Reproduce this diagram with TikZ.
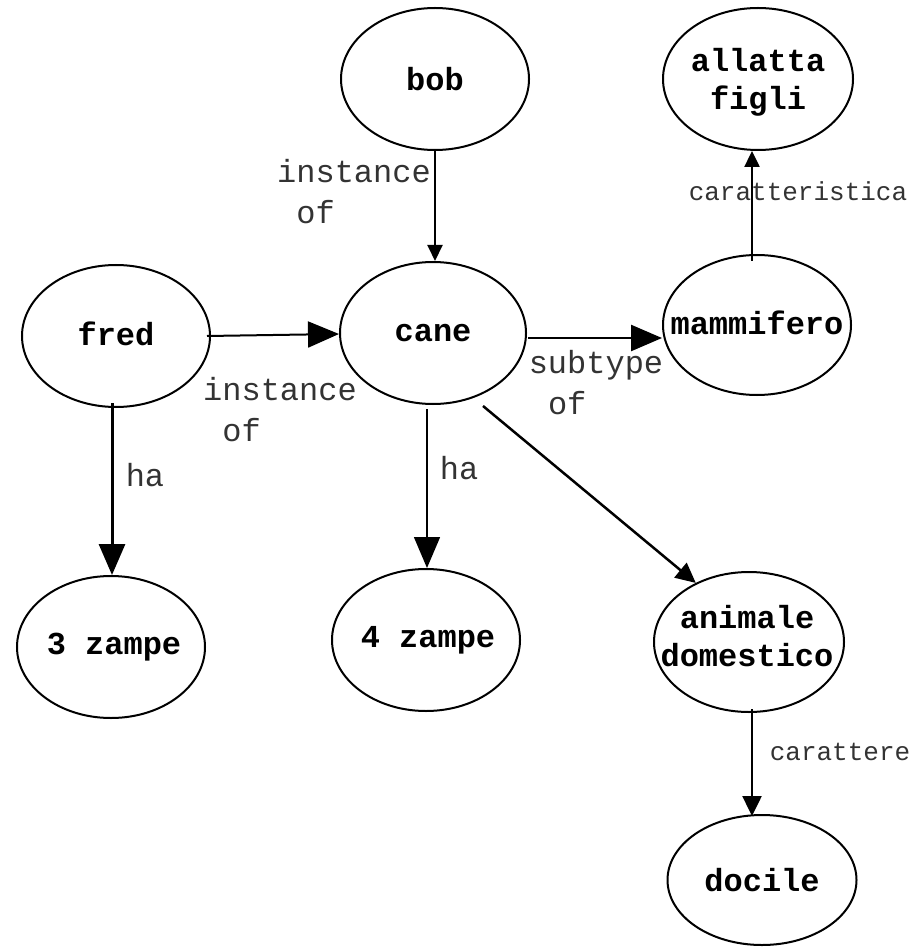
\documentclass[tikz,border=0pt]{standalone}
\usepackage{fontspec}
\setmonofont{Liberation Mono}
\usetikzlibrary{shapes.geometric,arrows.meta}
\begin{document}
\begin{tikzpicture}[x=1pt,y=-1pt,
  concept/.style={ellipse,draw,line width=2pt,inner sep=0pt,
    minimum width=188pt,minimum height=142pt},
  conceptname/.style={align=center,inner sep=0pt,
    font=\ttfamily\bfseries\fontsize{32}{38}\selectfont},
  rel/.style={align=left,inner sep=0pt,text=black!80,
    font=\ttfamily\fontsize{32}{41}\selectfont},
  relsmall/.style={rel,font=\ttfamily\fontsize{26}{32}\selectfont},
  bighead/.style={-{Triangle[length=31pt,width=26pt]}},
  smallhead/.style={-{Triangle[length=16pt,width=15pt]}},
  midhead/.style={-{Triangle[length=20pt,width=19pt]}}]
\useasboundingbox (0,0) rectangle (919,949);

% concepts (names are set as centred labels so they do not stretch the ellipses)
\node[concept,label={[conceptname]center:bob}] (bob) at (435,79) {};
\node[concept,minimum width=190pt,label={[conceptname,yshift=-3pt]center:allatta\\figli}] (latte) at (758,79) {};
\node[concept,label={[conceptname,yshift=2pt]center:fred}] (fred) at (116,336) {};
\node[concept,minimum width=186pt,label={[conceptname]center:cane}] (cane) at (433,333) {};
\node[concept,minimum height=140pt,label={[conceptname,yshift=2pt]center:mammifero}] (mamm) at (757,325) {};
\node[concept,label={[conceptname,xshift=3pt]center:3 zampe}] (z3) at (111,647) {};
\node[concept,label={[conceptname,xshift=2pt]center:4 zampe}] (z4) at (426,640) {};
\node[concept,minimum width=190pt,minimum height=140pt,label={[conceptname,xshift=-2pt,yshift=6pt]center:animale\\domestico}] (dom) at (749,642) {};
\node[concept,minimum width=189pt,minimum height=130pt,label={[conceptname]center:docile}] (doc) at (762,880) {};

% relations
\draw[line width=2pt,smallhead] (bob.south) -- (bob.south |- cane.north);
\draw[line width=2pt,bighead] ([xshift=-4pt]fred.east) -- ([yshift=-1pt]cane.west);
\draw[line width=2.5pt,bighead] ([xshift=1pt]cane.east) ++(0,-5pt) coordinate (ce) -- (ce -| mamm.west);
\draw[line width=1.5pt,bighead] ([xshift=-6pt,yshift=-4pt]cane.south) -- ([xshift=1pt]z4.north);
\draw[line width=3pt,bighead] ([xshift=-4pt,yshift=5pt]fred.south) -- ([xshift=1pt]z3.north);
\draw[line width=2.5pt,midhead] ([xshift=50pt,yshift=-1pt]cane.south) -- (dom.132);
\draw[line width=2.5pt,smallhead] ([xshift=-5pt,yshift=-7pt]mamm.north) -- ([xshift=-6pt]latte.south);
\draw[line width=2.5pt,midhead] ([xshift=3pt,yshift=4pt]dom.south) -- ([xshift=-10pt,yshift=-2pt]doc.north);

% relation labels
\node[rel] (l1) at (354,192) {instance\\\ of};
\node[rel] (l2) at (280,410) {instance\\\ of};
\node[rel] (l3) at (596,383) {subtype\\\ of};
\node[rel] (l4) at (145,475) {ha};
\node[rel] (l5) at (459,468) {ha};
\node[relsmall] (l6) at (798,191) {caratteristica};
\node[relsmall] (l7) at (840,752) {carattere};
\end{tikzpicture}
\end{document}
